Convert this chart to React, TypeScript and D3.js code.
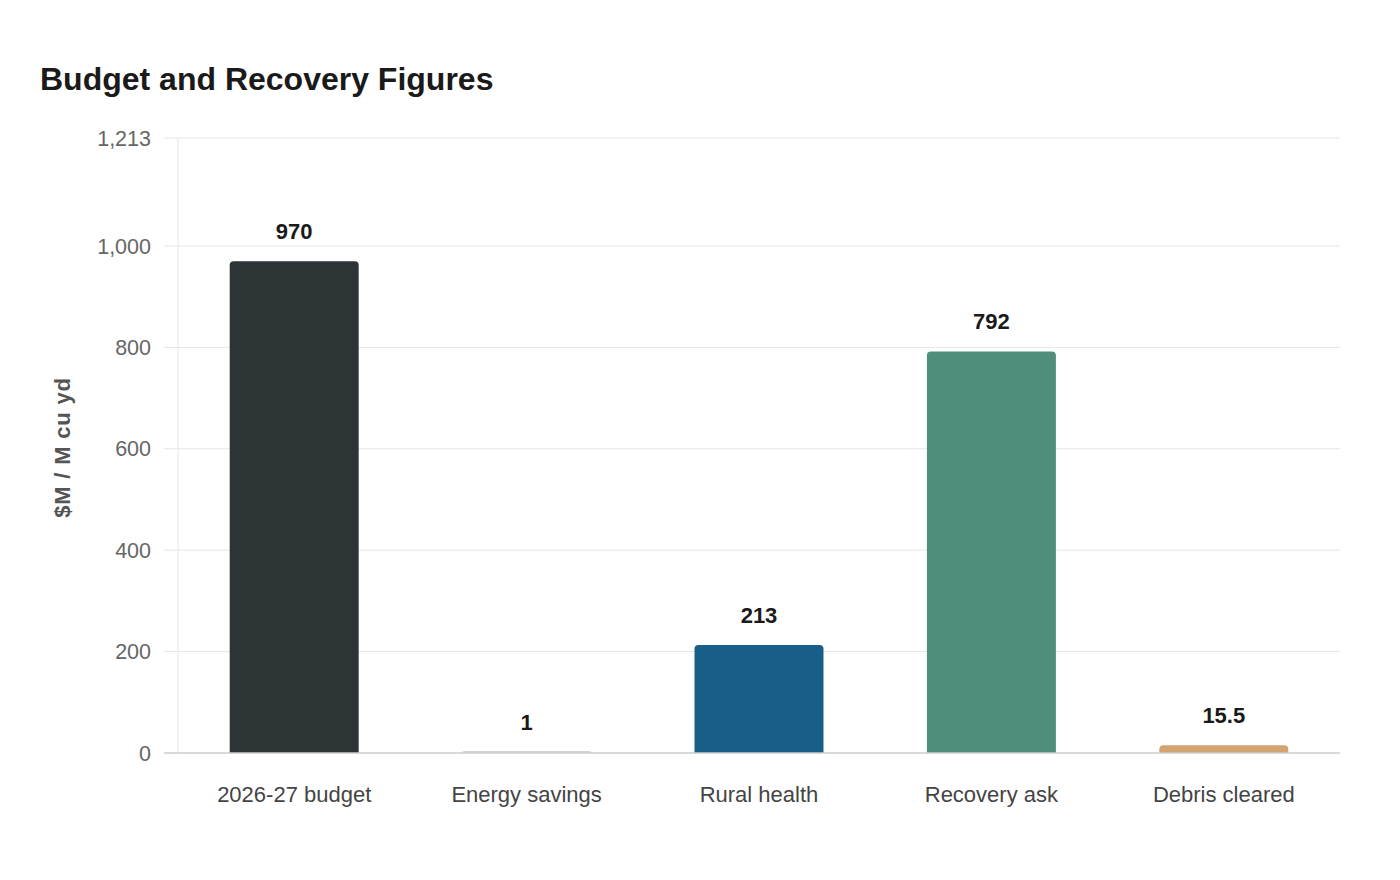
import React from "react";
import * as d3 from "d3";

const categories = ["2026-27 budget", "Energy savings", "Rural health", "Recovery ask", "Debris cleared"];
const values = [970, 1, 213, 792, 15.5];
const valueLabels = ["970", "1", "213", "792", "15.5"];
const colors = ["#2d3436", "#d2d2d2", "#175f88", "#4f8e7c", "#d4a373"];
const yTicks = [0, 200, 400, 600, 800, 1000, 1213];
const yMax = 1213;

const W = 1400, H = 880;
const m = { left: 178, right: 60, top: 138, bottom: 127 };
const font = "'Liberation Sans', Arial, Helvetica, sans-serif";

function topRounded(x: number, y: number, w: number, h: number, r: number) {
  const rr = Math.min(r, h, w / 2);
  return `M${x},${y + h} L${x},${y + rr} Q${x},${y} ${x + rr},${y} L${x + w - rr},${y} Q${x + w},${y} ${x + w},${y + rr} L${x + w},${y + h} Z`;
}

export default function App() {
  const x = d3.scaleBand<string>().domain(categories).range([m.left, W - m.right]).paddingInner(0.445).paddingOuter(0.2225);
  const y = d3.scaleLinear().domain([0, yMax]).range([H - m.bottom, m.top]);
  const fmt = d3.format(",");
  return (
    <svg width={W} height={H} style={{ position: "absolute", left: 0, top: 0, background: "#fff" }}>
      <text x={40} y={90} fontFamily={font} fontWeight={700} fontSize={32} fill="#1a1a1a">Budget and Recovery Figures</text>
      {yTicks.map((t) => (
        <g key={t}>
          {t !== 0 && <line x1={m.left - 14} x2={W - m.right} y1={y(t)} y2={y(t)} stroke="#e6e6e6" strokeWidth={1} />}
          <text x={151} y={y(t)} dy="0.35em" textAnchor="end" fontFamily={font} fontSize={21.5} fill="#666">{fmt(t)}</text>
        </g>
      ))}
      <line x1={m.left} x2={m.left} y1={m.top} y2={y(0)} stroke="#e6e6e6" strokeWidth={1} />
      <text transform={`translate(70,${(m.top + y(0)) / 2 + 2}) rotate(-90)`} textAnchor="middle" fontFamily={font} fontWeight={700} fontSize={22} letterSpacing={0.8} fill="#555">$M / M cu yd</text>
      {categories.map((c, i) => {
        const bx = x(c)!;
        const bw = x.bandwidth();
        const top = y(values[i]);
        const h = y(0) - top;
        return (
          <g key={c}>
            <path d={topRounded(bx, top - (h < 2 ? 2 - h : 0), bw, Math.max(h, 2), 4)} fill={colors[i]} />
            <text x={bx + bw / 2} y={top - 22} textAnchor="middle" fontFamily={font} fontWeight={700} fontSize={22} fill="#1a1a1a">{valueLabels[i]}</text>
            <text x={bx + bw / 2} y={y(0) + 49} textAnchor="middle" fontFamily={font} fontSize={22} fill="#444">{c}</text>
          </g>
        );
      })}
      <line x1={m.left - 14} x2={W - m.right} y1={y(0)} y2={y(0)} stroke="#cccccc" strokeWidth={1.5} />
    </svg>
  );
}
